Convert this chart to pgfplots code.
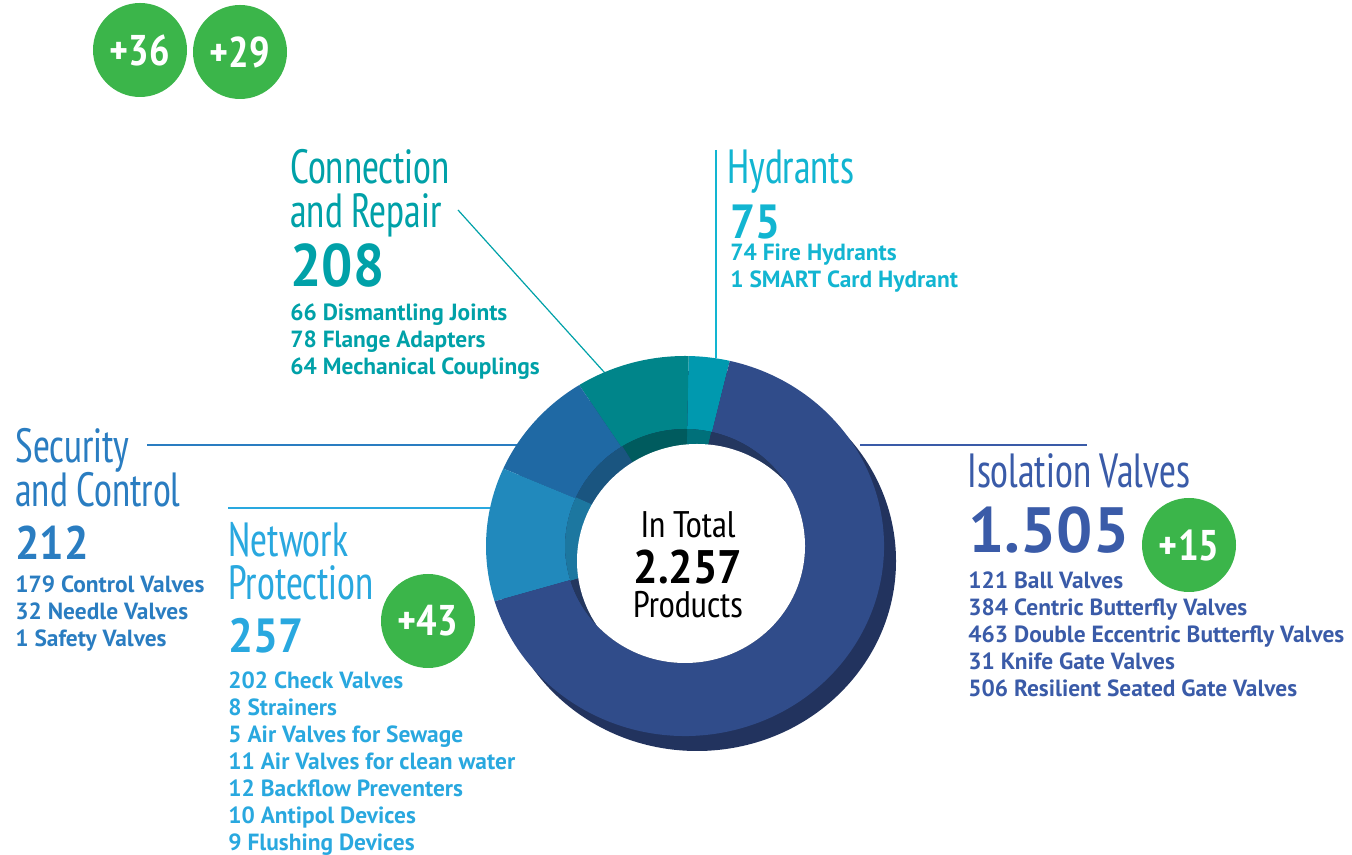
\documentclass[border=0pt]{standalone}
\usepackage{pgfplots}
\pgfplotsset{compat=1.18}
\usepackage{pgfplotstable}
\usepackage{fontspec}
\setmainfont{PT Sans}
\newfontfamily\titlef[FakeStretch=0.86]{PT Sans Narrow}
\newfontfamily\centf{PT Sans Narrow}
\newfontfamily\numf[FakeStretch=0.92]{PT Sans}
\definecolor{isoC}{HTML}{304C8A}
\definecolor{isoS}{HTML}{22335E}
\definecolor{isoW}{HTML}{24375F}
\definecolor{isoT}{HTML}{3A5BA8}
\definecolor{hydC}{HTML}{0099AF}
\definecolor{hydW}{HTML}{00707A}
\definecolor{hydT}{HTML}{12B5D1}
\definecolor{conC}{HTML}{00858A}
\definecolor{conW}{HTML}{005B5E}
\definecolor{conT}{HTML}{00A1A8}
\definecolor{secC}{HTML}{1F69A4}
\definecolor{secW}{HTML}{1A5580}
\definecolor{secT}{HTML}{2A7DC1}
\definecolor{netC}{HTML}{2189BC}
\definecolor{netW}{HTML}{1C77A0}
\definecolor{netT}{HTML}{29A8DF}
\definecolor{grn}{HTML}{3BB54A}
\newcommand\fs[1]{\fontsize{#1}{#1}\selectfont}
% ring sector: color, a1, a2, cx, cy, Rx, Ry, rx, ry  (px units, 1px = 0.5pt)
\newcommand\ring[9]{\fill[#1] (axis cs:{#4+#6*cos(#2)},{#5+#7*sin(#2)}) arc[start angle=#2, end angle=#3, x radius=#6*0.5pt, y radius=#7*0.5pt] -- (axis cs:{#4+#8*cos(#3)},{#5+#9*sin(#3)}) arc[start angle=#3, end angle=#2, x radius=#8*0.5pt, y radius=#9*0.5pt] -- cycle;}
\newcommand\wdg[3]{\fill[#1] (axis cs:685,309) -- (axis cs:{685+140*cos(#2)},{309+140*sin(#2)}) arc[start angle=#2, end angle=#3, radius=70pt] -- cycle;}
\newcommand\txt[4]{\node[anchor=base west, inner sep=0pt, text=#1] at (axis cs:#2,{855-#3}) {#4};}
\newcommand\itm[4]{\node[anchor=base west, inner sep=0pt, text=#1, font=\bfseries\fs{11.7pt}] at (axis cs:#2,{855-#3}) {#4};}
\newcommand\badge[3]{\fill[grn] (axis cs:#1,{855-#2}) circle[radius=23.5pt];
 \node[text=white, inner sep=0pt, font=\centf\bfseries\fs{21.5pt}] at (axis cs:#1,{855-#2}) {#3};}
\begin{document}
\begin{tikzpicture}
\pgfplotstableread{
name value
Hydrants 75
Connection 208
Security 212
Network 257
Isolation 1505
}\donut
\pgfplotstablegetelem{0}{value}\of\donut \edef\vA{\pgfplotsretval}
\pgfplotstablegetelem{1}{value}\of\donut \edef\vB{\pgfplotsretval}
\pgfplotstablegetelem{2}{value}\of\donut \edef\vC{\pgfplotsretval}
\pgfplotstablegetelem{3}{value}\of\donut \edef\vD{\pgfplotsretval}
\pgfplotstablegetelem{4}{value}\of\donut \edef\vE{\pgfplotsretval}
\pgfmathsetmacro\tot{\vA+\vB+\vC+\vD+\vE}
\pgfmathsetmacro\aA{77}
\pgfmathsetmacro\aB{\aA+\vA/\tot*360}
\pgfmathsetmacro\aC{\aB+\vB/\tot*360}
\pgfmathsetmacro\aD{\aC+\vC/\tot*360}
\pgfmathsetmacro\aE{\aD+\vD/\tot*360}
\pgfmathsetmacro\aF{\aE+\vE/\tot*360}
\begin{axis}[scale only axis, width=676pt, height=427.5pt,
  xmin=0, xmax=1352, ymin=0, ymax=855, hide axis, clip=false]
\coordinate (BL) at (axis cs:0,0);
\coordinate (TR) at (axis cs:1352,855);
% leader lines
\draw[conT, line width=0.6pt] (axis cs:458,{855-210}) -- (axis cs:613,{855-382});
\draw[hydT, line width=0.6pt] (axis cs:716,{855-150}) -- (axis cs:716,{855-358});
\draw[secT, line width=0.7pt] (axis cs:147,{855-445}) -- (axis cs:540,{855-445});
\draw[netT, line width=0.7pt] (axis cs:228,{855-508}) -- (axis cs:505,{855-508});
\draw[isoT, line width=0.7pt] (axis cs:860,{855-445}) -- (axis cs:1087,{855-445});
% donut side
\fill[isoS] (axis cs:697,294) ellipse[x radius=99.5pt, y radius=95pt];
% top face
\ring{hydC}{\aA}{\aB}{685}{309}{199}{190}{120}{117}
\ring{conC}{\aB}{\aC}{685}{309}{199}{190}{120}{117}
\ring{secC}{\aC}{\aD}{685}{309}{199}{190}{120}{117}
\ring{netC}{\aD}{\aE}{685}{309}{199}{190}{120}{117}
\ring{isoC}{\aE}{\aF}{685}{309}{199}{190}{120}{117}
% inner wall and hole
\begin{scope}
\clip (axis cs:685,309) ellipse[x radius=60pt, y radius=58.5pt];
\wdg{hydW}{\aA}{\aB}
\wdg{conW}{\aB}{\aC}
\wdg{secW}{\aC}{\aD}
\wdg{netW}{\aD}{\aE}
\wdg{isoW}{\aE}{\aF}
\fill[white] (axis cs:697,294) ellipse[x radius=60pt, y radius=58.5pt];
\end{scope}
% centre text
\node[anchor=base, inner sep=0pt, font=\centf\fs{18.5pt}] at (axis cs:688,{855-538}) {In Total};
\node[anchor=base, inner sep=0pt, font=\numf\bfseries\fs{23.5pt}] at (axis cs:688,{855-584}) {2.257};
\node[anchor=base, inner sep=0pt, font=\centf\fs{18.5pt}] at (axis cs:688,{855-618}) {Products};
% Connection and Repair
\txt{conT}{290}{184}{\titlef\fs{24pt}Connection}
\txt{conT}{290}{228}{\titlef\fs{24pt}and Repair}
\txt{conT}{290}{287}{\numf\bfseries\fs{30pt}208}
\itm{conT}{290}{321}{66 Dismantling Joints}
\itm{conT}{290}{348}{78 Flange Adapters}
\itm{conT}{290}{375}{64 Mechanical Couplings}
% Hydrants
\txt{hydT}{727}{184}{\titlef\fs{24pt}Hydrants}
\txt{hydT}{730}{239}{\numf\bfseries\fs{24pt}75}
\itm{hydT}{730}{261}{74 Fire Hydrants}
\itm{hydT}{730}{288}{1 SMART Card Hydrant}
% Security and Control
\txt{secT}{15}{463}{\titlef\fs{24pt}Security}
\txt{secT}{15}{507}{\titlef\fs{24pt}and Control}
\txt{secT}{15}{560}{\numf\bfseries\fs{23.5pt}212}
\itm{secT}{15}{593}{179 Control Valves}
\itm{secT}{15}{620}{32 Needle Valves}
\itm{secT}{15}{647}{1 Safety Valves}
% Network Protection
\txt{netT}{228}{557}{\titlef\fs{24pt}Network}
\txt{netT}{228}{600}{\titlef\fs{24pt}Protection}
\txt{netT}{228}{653}{\numf\bfseries\fs{24pt}257}
\itm{netT}{228}{689}{202 Check Valves}
\itm{netT}{228}{716}{8 Strainers}
\itm{netT}{228}{743}{5 Air Valves for Sewage}
\itm{netT}{228}{770}{11 Air Valves for clean water}
\itm{netT}{228}{797}{12 Backflow Preventers}
\itm{netT}{228}{824}{10 Antipol Devices}
\itm{netT}{228}{851}{9 Flushing Devices}
% Isolation Valves
\txt{isoT}{967}{488}{\titlef\fs{24pt}Isolation Valves}
\txt{isoT}{968}{553}{\bfseries\fs{32pt}1.505}
\itm{isoT}{968}{589}{121 Ball Valves}
\itm{isoT}{968}{616}{384 Centric Butterfly Valves}
\itm{isoT}{968}{643}{463 Double Eccentric Butterfly Valves}
\itm{isoT}{968}{670}{31 Knife Gate Valves}
\itm{isoT}{968}{697}{506 Resilient Seated Gate Valves}
% badges
\badge{140}{50}{+36}
\badge{240}{52}{+29}
\badge{428}{621}{+43}
\badge{1189}{545}{+15}
\end{axis}
\pgfresetboundingbox
\path[use as bounding box] (BL) rectangle (TR);
\end{tikzpicture}
\end{document}
